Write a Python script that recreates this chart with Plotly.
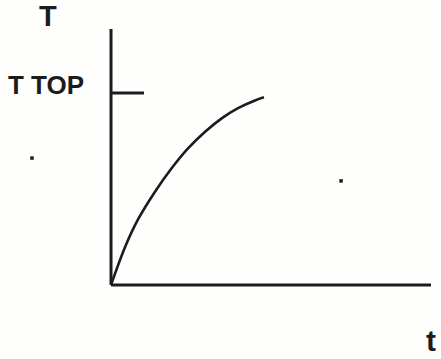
import plotly.graph_objects as go

# Temperature rise curve T(t) approaching TTOP (T normalised so TTOP = 1)
t_curve = [0.0, 0.44, 0.84, 1.375, 1.9, 2.4, 2.94, 3.47, 3.97, 4.5, 4.78]
T_curve = [0.0, 0.198, 0.340, 0.486, 0.609, 0.710, 0.798, 0.869, 0.921, 0.961, 0.977]

T_TOP = 1.0
t_axis_max = 10.0
T_axis_max = 1.333
ttop_tick_len = 1.03

# stray marks on the sheet
dot_t = [-2.47, 7.19]
dot_T = [0.661, 0.542]

ink = "#1c1c1c"

fig = go.Figure()

fig.add_trace(go.Scatter(
    x=t_curve, y=T_curve, mode="lines",
    line=dict(color=ink, width=2.6, shape="spline", smoothing=1.0),
    hoverinfo="skip", showlegend=False,
))
fig.add_trace(go.Scatter(
    x=dot_t, y=dot_T, mode="markers",
    marker=dict(color=ink, size=3.5, symbol="square"),
    hoverinfo="skip", showlegend=False,
))

# axes drawn as strokes
fig.add_shape(type="line", x0=0, y0=0, x1=0, y1=T_axis_max,
              xref="x", yref="y", line=dict(color=ink, width=3))
fig.add_shape(type="line", x0=0, y0=0, x1=t_axis_max, y1=0,
              xref="x", yref="y", line=dict(color=ink, width=3))
fig.add_shape(type="line", x0=0, y0=T_TOP, x1=ttop_tick_len, y1=T_TOP,
              xref="x", yref="y", line=dict(color=ink, width=3))

font_main = "Liberation Sans, Arial, sans-serif"
fig.add_annotation(x=-1.97, y=1.40, text="<b>T</b>", showarrow=False,
                   font=dict(family=font_main, size=29, color=ink))
fig.add_annotation(x=-2.02, y=1.04, text="<b>T TOP</b>", showarrow=False,
                   font=dict(family=font_main, size=26, color=ink))
fig.add_annotation(x=10.0, y=-0.29, text="<b>t</b>", showarrow=False,
                   font=dict(family=font_main, size=30, color=ink))

fig.update_layout(
    width=441, height=359,
    margin=dict(l=0, r=0, t=0, b=0),
    paper_bgcolor="#fefefc", plot_bgcolor="#fefefc",
    xaxis=dict(range=[-3.469, 10.3125], visible=False, fixedrange=True),
    yaxis=dict(range=[-0.3854, 1.484], visible=False, fixedrange=True),
)

fig.write_html("out.html", config={"displayModeBar": False})
